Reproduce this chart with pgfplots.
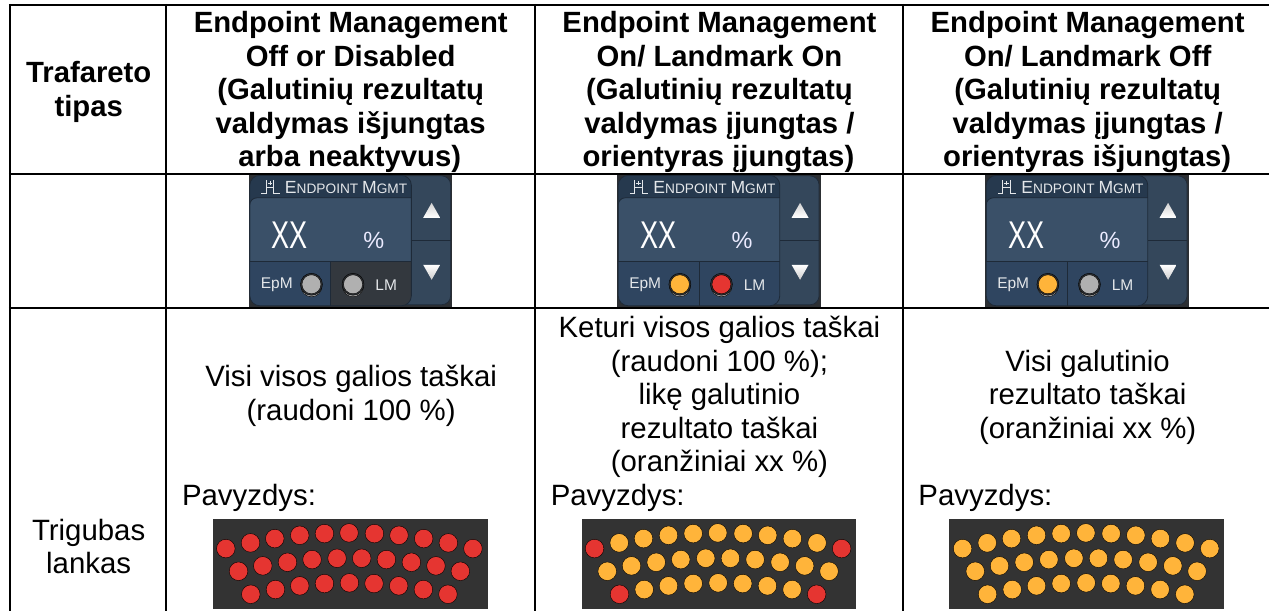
\documentclass[border=0pt]{standalone}
\usepackage{fontspec}
\setmainfont{Liberation Sans}
\usepackage{pgfplots}
\pgfplotsset{compat=1.18}
\definecolor{ledred}{HTML}{E53531}
\definecolor{ledor}{HTML}{FFB43A}
\definecolor{ledgr}{HTML}{B0B0B0}
\definecolor{plate}{HTML}{333333}
\definecolor{wbg}{HTML}{2C2F33}
\definecolor{btn}{HTML}{34475B}
\definecolor{hdr}{HTML}{26394E}
\definecolor{disp}{HTML}{3A5068}
\definecolor{low}{HTML}{2F4560}
\definecolor{lmoff}{HTML}{33383E}
\definecolor{lines}{HTML}{1E2A38}
\definecolor{wtxt}{HTML}{E4E7EA}
\newcommand{\hd}[3]{\node[anchor=base,font=\fontsize{29.3}{30}\selectfont\bfseries] at (axis cs:#1,#2) {#3};}
\newcommand{\bd}[3]{\node[anchor=base,font=\fontsize{29.4}{30}\selectfont] at (axis cs:#1,#2) {#3};}
\newcommand{\bl}[3]{\node[anchor=base west,inner sep=0pt,font=\fontsize{29.4}{30}\selectfont] at (axis cs:#1,#2) {#3};}
\newcommand{\widget}[4]{%
  \fill[wbg] (axis cs:249+#1,175) rectangle (axis cs:452.7+#1,308);
  \fill[btn,draw=lines,line width=0.7pt,rounded corners=9pt] (axis cs:390+#1,176) rectangle (axis cs:451+#1,305);
  \draw[lines,line width=0.8pt] (axis cs:412+#1,240.7) -- (axis cs:451+#1,240.7);
  \shade[top color=white!65!gray,bottom color=white] (axis cs:432+#1,203) -- (axis cs:440.5+#1,218) -- (axis cs:423.5+#1,218) -- cycle;
  \shade[top color=white,bottom color=white!60!gray] (axis cs:423.5+#1,265) -- (axis cs:440.5+#1,265) -- (axis cs:432+#1,280) -- cycle;
  \begin{scope}
    \clip[rounded corners=10pt] (axis cs:250+#1,175.5) rectangle (axis cs:411.7+#1,306);
    \fill[hdr] (axis cs:250+#1,175) rectangle (axis cs:412+#1,200);
    \fill[hdr] (axis cs:250+#1,195) rectangle (axis cs:270+#1,215);
    \fill[disp,draw=lines,line width=0.8pt,rounded corners=7pt] (axis cs:250+#1,198) rectangle (axis cs:420+#1,275);
    \fill[low] (axis cs:250+#1,262) rectangle (axis cs:331+#1,306);
    \fill[#2] (axis cs:331+#1,262) rectangle (axis cs:412+#1,306);
    \draw[lines,line width=0.9pt] (axis cs:250+#1,262) -- (axis cs:412+#1,262);
    \draw[lines,line width=0.9pt] (axis cs:331+#1,262) -- (axis cs:331+#1,306);
  \end{scope}
  \draw[lines,line width=0.8pt,rounded corners=10pt] (axis cs:250+#1,175.5) rectangle (axis cs:411.7+#1,306);
  \draw[wtxt,line width=1.1pt] (axis cs:261.7+#1,193.5) -- (axis cs:266.7+#1,193.5) -- (axis cs:266.7+#1,180) (axis cs:274+#1,180) -- (axis cs:274+#1,193.5) -- (axis cs:280+#1,193.5) (axis cs:266.7+#1,188) -- (axis cs:274+#1,188) (axis cs:268+#1,183.5) -- (axis cs:272.5+#1,183.5) (axis cs:270.3+#1,181.5) -- (axis cs:270.3+#1,185.5);
  \node[anchor=base west,inner sep=0pt,text=wtxt] at (axis cs:285+#1,194) {\fontsize{17.6}{17}\selectfont E\fontsize{13.7}{17}\selectfont NDPOINT \fontsize{17.6}{17}\selectfont M\fontsize{13.7}{17}\selectfont GMT};
  \node[inner sep=0pt,text=white,xscale=0.7,font=\fontsize{38.7}{40}\selectfont] at (axis cs:290+#1,235.7) {XX};
  \node[inner sep=0pt,text=white!92!blue,font=\fontsize{23.5}{24}\selectfont] at (axis cs:374+#1,240.7) {\%};
  \node[inner sep=0pt,text=wtxt,font=\fontsize{15.5}{16}\selectfont] at (axis cs:277+#1,285) {EpM};
  \node[inner sep=0pt,text=wtxt,font=\fontsize{15.5}{16}\selectfont] at (axis cs:386.5+#1,285) {LM};
  \addplot[only marks,mark=*,mark size=10.5,mark options={fill=gray!70,draw=none}] coordinates {(311.7+#1,286.5) (353.3+#1,286.5)};
  \addplot[only marks,mark=*,mark size=11,mark options={fill=wbg,draw=none}] coordinates {(311.7+#1,284.5) (353.3+#1,284.5)};
  \addplot[only marks,mark=*,mark size=9.5,mark options={fill=#3,draw=none}] coordinates {(311.7+#1,284.5)};
  \addplot[only marks,mark=*,mark size=9.5,mark options={fill=#4,draw=none}] coordinates {(353.3+#1,284.5)};
}
\begin{document}
\begin{tikzpicture}
\begin{axis}[
  scale only axis,width=1270pt,height=611pt,
  xmin=0,xmax=1270,ymin=0,ymax=611,y dir=reverse,
  axis lines=none,clip=false,
]
\path (axis cs:0,0) rectangle (axis cs:1270,611);
% plates
\addplot[fill=plate,draw=none] coordinates {(213,519) (488,519) (488,609) (213,609)} --cycle;
\addplot[fill=plate,draw=none] coordinates {(582,519) (857,519) (857,609) (582,609)} --cycle;
\addplot[fill=plate,draw=none] coordinates {(950,519) (1225,519) (1225,609) (950,609)} --cycle;
% panel 1: all red
\addplot[only marks,mark=*,mark size=9.3,mark options={fill=ledred,draw=none}] table {
226 549
250.7 543.3
275 539
300 535.7
324.7 534
349.3 533.3
374.7 534
399.3 535.7
424 539
448.7 543.3
473.3 549
238.7 571.7
263 566.3
287.7 562.7
312.3 560
337.3 558.7
362 558.7
386.7 560
411.7 562.7
436.3 566.3
460.7 571.7
251 594.7
275.7 590
300 586.3
324.7 584
349.7 583.3
374.3 584
399 586.3
423.7 590
448.3 594.7
};
% panel 2: red ends
\addplot[only marks,mark=*,mark size=9.3,mark options={fill=ledred,draw=none}] table {
595 549
842.3 549
620 594.7
817.3 594.7
};
\addplot[only marks,mark=*,mark size=9.3,mark options={fill=ledor,draw=none}] table {
619.7 543.3
644 539
669 535.7
693.7 534
718.3 533.3
743.7 534
768.3 535.7
793 539
817.7 543.3
607.7 571.7
632 566.3
656.7 562.7
681.3 560
706.3 558.7
731 558.7
755.7 560
780.7 562.7
805.3 566.3
829.7 571.7
644.7 590
669 586.3
693.7 584
718.7 583.3
743.3 584
768 586.3
792.7 590
};
% panel 3: all orange
\addplot[only marks,mark=*,mark size=9.3,mark options={fill=ledor,draw=none}] table {
963.3 549
988 543.3
1012.3 539
1037.3 535.7
1062 534
1086.7 533.3
1112 534
1136.7 535.7
1161.3 539
1186 543.3
1210.7 549
976 571.7
1000.3 566.3
1025 562.7
1049.7 560
1074.7 558.7
1099.3 558.7
1124 560
1149 562.7
1173.7 566.3
1198 571.7
988.3 594.7
1013 590
1037.3 586.3
1062 584
1087 583.3
1111.7 584
1136.3 586.3
1161 590
1185.7 594.7
};
\widget{0}{lmoff}{ledgr}{ledgr}
\widget{368.7}{low}{ledor}{ledred}
\widget{737}{low}{ledor}{ledgr}
% table rules
\addplot[black,line width=2pt] coordinates {(9,5) (1270,5)};
\addplot[black,line width=2pt] coordinates {(9,174.5) (1270,174.5)};
\addplot[black,line width=2pt] coordinates {(9,308.5) (1270,308.5)};
\addplot[black,line width=2pt] coordinates {(10,4) (10,611)};
\addplot[black,line width=2pt] coordinates {(166.3,4) (166.3,611)};
\addplot[black,line width=2pt] coordinates {(535,4) (535,611)};
\addplot[black,line width=2pt] coordinates {(904,4) (904,611)};
% header
\hd{88.8}{83}{Trafareto}
\hd{88.8}{116.5}{tipas}
\hd{351}{33}{Endpoint Management}
\hd{351}{66.5}{Off or Disabled}
\hd{351}{100}{(Galutinių rezultatų}
\hd{351}{133.5}{valdymas išjungtas}
\hd{350}{167}{arba neaktyvus)}
\hd{720}{33}{Endpoint Management}
\hd{720}{66.5}{On/ Landmark On}
\hd{720}{100}{(Galutinių rezultatų}
\hd{720}{133.5}{valdymas įjungtas /}
\hd{719}{167}{orientyras įjungtas)}
\hd{1088.5}{33}{Endpoint Management}
\hd{1088.5}{66.5}{On/ Landmark Off}
\hd{1088.5}{100}{(Galutinių rezultatų}
\hd{1088.5}{133.5}{valdymas įjungtas /}
\hd{1088}{167}{orientyras išjungtas)}
% body
\bd{351.4}{387}{Visi visos galios taškai}
\bd{351.4}{421}{(raudoni 100 \%)}
\bl{182}{505.5}{Pavyzdys:}
\bd{720}{338}{Keturi visos galios taškai}
\bd{720}{371.5}{(raudoni 100 \%);}
\bd{720}{405}{likę galutinio}
\bd{720}{438.5}{rezultato taškai}
\bd{720}{472}{(oranžiniai xx \%)}
\bl{551}{505.5}{Pavyzdys:}
\bd{1088.5}{371.5}{Visi galutinio}
\bd{1088.5}{405}{rezultato taškai}
\bd{1088.5}{438.5}{(oranžiniai xx \%)}
\bl{919}{505.5}{Pavyzdys:}
\bd{88.7}{541}{Trigubas}
\bd{88.7}{574}{lankas}
\end{axis}
\end{tikzpicture}
\end{document}
